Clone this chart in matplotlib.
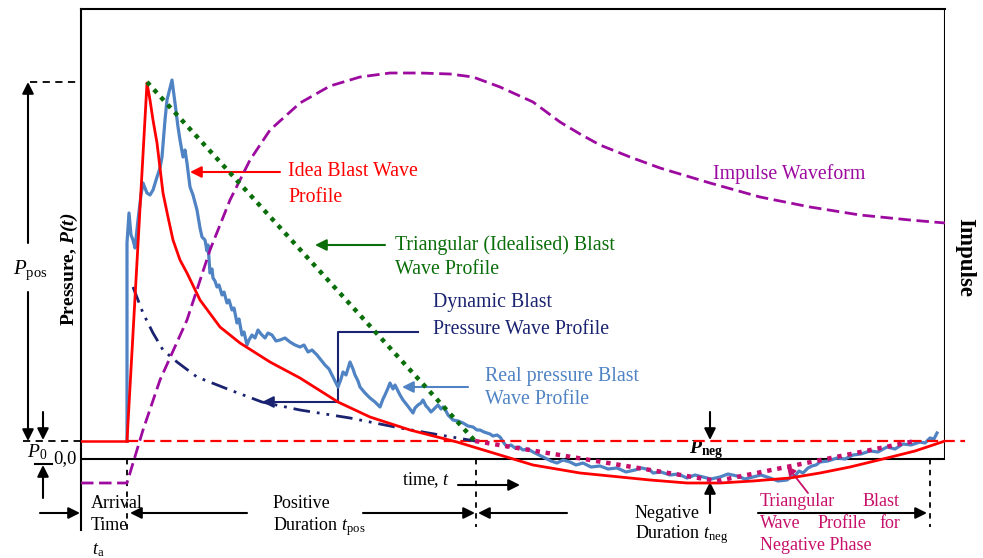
import matplotlib
matplotlib.use('Agg')
import matplotlib.pyplot as plt

plt.rcParams['font.family'] = 'Liberation Serif'
plt.rcParams['mathtext.fontset'] = 'custom'
plt.rcParams['mathtext.rm'] = 'Liberation Serif'
plt.rcParams['mathtext.it'] = 'Liberation Serif:italic'
plt.rcParams['mathtext.bf'] = 'Liberation Serif:bold:italic'
plt.rcParams['mathtext.sf'] = 'Liberation Serif:bold'

real_t = [46, 46, 48, 50, 52, 54, 57, 60, 62, 66, 69, 72, 76, 79, 81, 84, 86, 89, 91, 93,
          94, 97, 99, 102, 104, 106, 109, 112, 116, 119, 121,
          124, 126, 127, 129, 131, 132, 134, 136, 138, 141, 143, 146, 148, 151, 153, 156, 158,
          161, 163, 166, 168, 171, 174, 177, 180, 184, 187, 191, 195, 199, 204, 209, 214, 219,
          223, 227, 231, 236, 240, 244, 248, 252,
          257, 260, 262, 265, 269, 272, 274, 277, 279, 284, 289, 294, 299, 302, 304, 307, 309,
          312, 314, 317, 319, 322, 326, 329, 332, 334, 337, 340, 342, 345, 347, 350, 352, 355,
          357, 360, 362, 365, 367, 370, 372, 377, 382, 387, 392, 396, 399, 403, 406, 409, 412,
          416, 419, 423, 426, 430, 434, 438, 442, 447,
          452, 458, 464, 470, 476, 482, 489, 495, 502, 510, 519, 527, 536, 545, 554, 561, 569,
          572, 580, 589, 597, 606, 614, 622, 630, 639, 647, 656, 664, 672, 680, 689, 697, 706,
          710, 714, 718, 722, 727, 731, 735, 739, 747, 756, 764, 772, 780, 789, 797, 806, 814,
          822, 830, 839, 844, 849, 853, 856]
real_p = [18, 216, 246, 224, 219, 211, 239, 264, 276, 266, 264, 269, 282, 291, 302, 339, 359,
          371, 379, 364, 356, 332, 319, 302, 309, 296, 272, 264, 249, 231, 222,
          219, 208, 214, 186, 190, 181, 178, 172, 174, 164, 167, 156, 159, 149, 151, 136, 140,
          124, 127, 114, 119, 124, 121, 129, 125, 121, 126, 124, 118, 119, 121, 117, 114, 112,
          114, 107, 109, 104, 99, 94, 90, 82,
          72, 80, 87, 84, 97, 90, 84, 78, 72, 66, 61, 57, 52, 60, 64, 71, 76,
          70, 74, 68, 64, 59, 54, 50, 46, 51, 54, 56, 59, 53, 51, 47, 49, 52,
          54, 50, 52, 48, 44, 41, 39, 38, 36, 33, 32, 29, 29, 27, 26, 25, 23,
          24, 22, 16, 12, 14, 11, 12, 9, 10,
          7, 4, 1, -2, -4, -1, -3, -6, -4, -8, -7, -10, -9, -13, -11, -9, -11,
          -14, -13, -16, -15, -19, -16, -18, -20, -18, -15, -17, -20, -18, -16, -19, -22, -21,
          -18, -17, -12, -14, -9, -7, -6, -3, -2, 1, 0, 4, 5, 8, 7, 12, 10,
          15, 14, 17, 16, 21, 20, 26]

ideal_t = [46, 66, 69, 72, 76, 82, 87, 92, 99, 106, 119, 139, 159, 189, 219, 257, 289, 329,
           376, 419, 452, 499, 539, 569, 606, 639, 672, 709, 739, 769, 806, 834, 864]
ideal_p = [18, 376, 359, 339, 316, 266, 242, 219, 199, 186, 159, 132, 116, 97, 81, 57, 42, 29,
           17, 4, -6, -14, -18, -21, -24, -24, -22, -19, -14, -8, 1, 8, 18]

tri_t = [66, 394]
tri_p = [377, 18]

neg_t = [394, 636, 834]
neg_p = [18, -22, 18]

dyn_t = [52, 62, 72, 82, 96, 116, 149, 181, 219, 269, 319, 359, 394]
dyn_p = [172, 146, 126, 109, 97, 82, 69, 57, 49, 41, 31, 24, 18]

imp_t = [0, 46, 62, 79, 106, 129, 149, 169, 189, 219, 249, 279, 309, 339, 369, 392, 419,
         452, 479, 499, 519, 549, 579, 629, 679, 729, 779, 829, 864]
imp_p = [-24, -24, 29, 79, 139, 209, 259, 299, 329, 356, 373, 382, 386, 386, 385, 382, 372,
         357, 337, 325, 314, 302, 291, 276, 262, 252, 244, 239, 236]

P0 = 18
t_arrival = 46
t_pos_end = 395
t_neg_end = 849

fig = plt.figure(figsize=(9.83, 5.58), dpi=100)
ax = fig.add_axes([81 / 983, 28 / 558, 864 / 983, 521 / 558])
ax.set_xlim(0, 864)
ax.set_ylim(-71, 450)
ax.set_xticks([])
ax.set_yticks([])
for s in ['right', 'bottom']:
    ax.spines[s].set_visible(False)
for s in ['left', 'top']:
    ax.spines[s].set_linewidth(1.5)
ax.plot([864, 864], [0, 450], color='black', lw=1.5)
ax.plot([0, 864], [0, 0], color='black', lw=1.5)

red = '#ff0000'
green = '#0a6e0a'
purple = '#9c0aa0'
navy = '#1a2370'
blue = '#4f83c4'
magenta = '#c8106a'

# curves
ax.plot(real_t, real_p, color=blue, lw=2.3, zorder=3)
ax.plot([0, t_arrival], [P0, P0], color=red, lw=1.8, zorder=4)
ax.plot([t_arrival, 884], [P0, P0], color=red, lw=1.6, dashes=(5, 2.5), clip_on=False, zorder=4)
ax.plot(ideal_t, ideal_p, color=red, lw=2.0, zorder=5)
ax.plot(tri_t, tri_p, color=green, lw=3.2, dashes=(1, 1.3), zorder=5)
ax.plot(neg_t, neg_p, color=magenta, lw=3.2, dashes=(1, 1.3), zorder=5)
ax.plot(dyn_t, dyn_p, color=navy, lw=2.0, dashes=(6, 2.5, 1, 2.5, 1, 2.5), zorder=4)
ax.plot(imp_t, imp_p, color=purple, lw=2.0, dashes=(4.5, 2), zorder=4)


def arrow(tail, head, color='black', lw=1.5, ms=17):
    ax.annotate('', xy=head, xytext=tail, annotation_clip=False,
                arrowprops=dict(arrowstyle='-|>', color=color, lw=lw, mutation_scale=ms,
                                shrinkA=0, shrinkB=0))


def txt(x, y, s, color='black', size=14.3, **kw):
    ax.text(x, y, s, color=color, fontsize=size, va='center', clip_on=False, **kw)


# curve labels
arrow((199, 287), (109, 287), red)
txt(207, 287, 'Idea Blast Wave', red)
txt(207, 261, 'Profile', red)

arrow((304, 214), (234, 214), green)
txt(314, 214, 'Triangular (Idealised) Blast', green)
txt(314, 189, 'Wave Profile', green)

ax.plot([337, 257, 257], [127, 127, 57], color=navy, lw=1.5)
arrow((257, 57), (181, 57), navy)
txt(352, 156, 'Dynamic Blast', navy)
txt(352, 130, 'Pressure Wave Profile', navy)

arrow((387, 72), (321, 72), blue)
txt(404, 83, 'Real pressure Blast', blue)
txt(404, 59, 'Wave Profile', blue)

txt(632, 285, 'Impulse Waveform', purple)
txt(884, 202, 'Impulse', size=16.5, weight='bold', rotation=-90, ha='center')
txt(-12, 190, 'Pressure, $\\mathbf{P(t)}$', size=14, weight='bold', rotation=90, ha='center')

# left dimension marks
ax.plot([-51, 0], [377, 377], color='black', lw=1.3, dashes=(4, 3), clip_on=False)
ax.plot([-58, 0], [P0, P0], color='black', lw=1.3, dashes=(4, 3), clip_on=False)
arrow((-53, 216), (-53, 377))
arrow((-53, 167), (-53, P0))
txt(-51, 189, '$P_{\\mathrm{pos}}$', size=15, ha='center')
arrow((-38, 47), (-38, P0 + 1))
txt(-44, 7, '$P_{\\mathrm{0}}$', size=14, ha='center')
ax.plot([-46, -29], [-5, -5], color='black', lw=1.5, clip_on=False)
arrow((-38, -39), (-38, -6))
txt(-16, 0, '0,0', size=13.5, ha='center')

# time marks
ax.plot([t_arrival, t_arrival], [0, -71], color='black', lw=1.3, dashes=(3, 3), clip_on=False)
ax.plot([t_pos_end, t_pos_end], [0, -68], color='black', lw=1.3, dashes=(3, 3), clip_on=False)
ax.plot([t_neg_end, t_neg_end], [0, -68], color='black', lw=1.3, dashes=(3, 3), clip_on=False)
arrow((-41, -54), (-1, -54))
arrow((166, -54), (49, -54))
arrow((282, -54), (394, -54))
arrow((486, -54), (397, -54))
arrow((377, -26), (439, -26))
arrow((629, -54), (629, -23))
arrow((629, 47), (629, P0 + 1))
arrow((677, -54), (846, -54))

txt(10, -44, 'Arrival', size=13)
txt(10, -66, 'Time', size=13)
txt(11, -91, '$t_{\\mathrm{a}}$', size=13)
txt(192, -44, 'Positive', size=13)
txt(192, -68, 'Duration $t_{\\mathrm{pos}}$', size=13)
txt(321, -21, 'time, $t$', size=13)
txt(554, -54, 'Negative', size=13)
txt(554, -76, 'Duration $t_{\\mathrm{neg}}$', size=13)
txt(625, 9, '$\\mathbf{P}_{\\mathsf{neg}}$', size=14, ha='center')

arrow((727, -34), (706, -7), magenta, lw=1.3, ms=13)
txt(679, -43, 'Triangular', magenta, size=13)
txt(819, -43, 'Blast', magenta, size=13, ha='right')
txt(679, -64, 'Wave', magenta, size=13)
txt(761, -64, 'Profile', magenta, size=13, ha='center')
txt(819, -64, 'for', magenta, size=13, ha='right')
txt(679, -87, 'Negative Phase', magenta, size=13)

fig.savefig('out.png', dpi=100)
